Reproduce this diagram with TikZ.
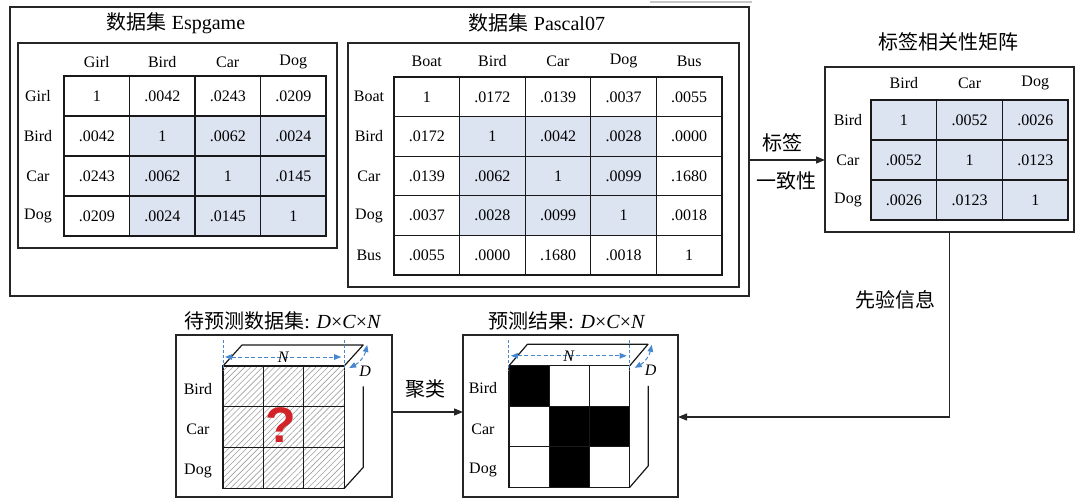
\documentclass[tikz,border=0pt]{standalone}
\usepackage{fontspec}
\setmainfont{Liberation Serif}
\newfontfamily\cjk{Noto Sans CJK SC}
\newfontfamily\qfont{Liberation Sans}
\usetikzlibrary{arrows.meta,patterns.meta,calc}
\definecolor{cellblue}{RGB}{220,227,241}
\definecolor{dimblue}{RGB}{70,135,205}
\definecolor{qred}{RGB}{210,35,40}
\newcommand\tabfont{\fontsize{16}{18}\selectfont}
\newcommand\mytitlefont{\fontsize{20}{22}\selectfont}
\begin{document}
\begin{tikzpicture}[x=1pt,y=-1pt,
  bx/.style={draw=black!85, line width=1.3pt, inner sep=0pt, outer sep=0pt, anchor=north west},
  cell/.style={draw=black!90, line width=1.3pt, minimum width=65.6pt, minimum height=40pt, inner sep=0pt, outer sep=0pt, font=\tabfont},
  hdr/.style={font=\tabfont, inner sep=1pt},
  ttl/.style={font=\mytitlefont, inner sep=1pt},
  arr/.style={draw=black!85, line width=1.3pt, -{Triangle[length=9pt,width=7pt]}},
  hcell/.style={draw=black!90, line width=1.2pt, minimum width=40.4pt, minimum height=40.8pt, inner sep=0pt, outer sep=0pt,
     pattern={Lines[angle=45,distance=4.2pt,line width=0.6pt]}, pattern color=gray!75},
  rcell/.style={draw=black!90, line width=1.2pt, minimum width=40.4pt, minimum height=40.8pt, inner sep=0pt, outer sep=0pt},
  edge/.style={draw=black!90, line width=1.2pt, line join=round},
  dimline/.style={draw=dimblue, line width=0.9pt, dash pattern=on 3pt off 2pt},
  dimarr/.style={draw=dimblue, line width=1pt, dash pattern=on 4pt off 2.5pt, {Triangle[length=7pt,width=5.5pt]}-{Triangle[length=7pt,width=5.5pt]}},
  dimlab/.style={font=\fontsize{16}{17}\selectfont\itshape, inner sep=0.5pt}
]
\useasboundingbox (0,0) rectangle (1077,499);
\fill[white] (0,0) rectangle (1077,499);
% scan artifact at top
\draw[gray!45, line width=2pt] (650,1.5) -- (752,1.5);

% ---------- outer box and datasets ----------
\node[bx, minimum width=739pt, minimum height=289pt] (outer) at (10,7) {};
\node[ttl] (tE) at (176,23) {{\cjk 数据集} Espgame};
\node[ttl] (tP) at (537,23) {{\cjk 数据集} Pascal07};
\node[bx, minimum width=319pt, minimum height=205pt] (boxE) at (18,43) {};
\node[bx, minimum width=391pt, minimum height=244pt] (boxP) at (348,43) {};

% Espgame table
\foreach \t [count=\c] in {Girl,Bird,Car,Dog}
  \node[hdr] (Eh-\c) at ({64+65.5*(\c-0.5)},62) {\t};
\foreach \t [count=\r] in {Girl,Bird,Car,Dog}
  \node[hdr] (Er-\r) at (38,{76+40*(\r-0.5)}) {\t};
\foreach \rw [count=\r] in {{1,.0042,.0243,.0209},{.0042,1,.0062,.0024},{.0243,.0062,1,.0145},{.0209,.0024,.0145,1}}{
  \foreach \v [count=\c] in \rw {
    \def\fc{white}
    \ifnum\r>1 \ifnum\c>1 \def\fc{cellblue}\fi\fi
    \node[cell, fill=\fc, minimum width=65.5pt] (E-\r-\c) at ({64+65.5*(\c-0.5)},{76+40*(\r-0.5)}) {\v};
  }
}

% Pascal07 table
\foreach \t [count=\c] in {Boat,Bird,Car,Dog,Bus}
  \node[hdr] (Ph-\c) at ({394+65.6*(\c-0.5)},61) {\t};
\foreach \t [count=\r] in {Boat,Bird,Car,Dog,Bus}
  \node[hdr] (Pr-\r) at (369,{77+39.6*(\r-0.5)}) {\t};
\foreach \rw [count=\r] in {{1,.0172,.0139,.0037,.0055},{.0172,1,.0042,.0028,.0000},{.0139,.0062,1,.0099,.1680},{.0037,.0028,.0099,1,.0018},{.0055,.0000,.1680,.0018,1}}{
  \foreach \v [count=\c] in \rw {
    \def\fc{white}
    \ifnum\r>1 \ifnum\r<5 \ifnum\c>1 \ifnum\c<5 \def\fc{cellblue}\fi\fi\fi\fi
    \node[cell, fill=\fc, minimum height=39.6pt] (T-\r-\c) at ({394+65.6*(\c-0.5)},{77+39.6*(\r-0.5)}) {\v};
  }
}

% ---------- label correlation matrix ----------
\node[ttl] (tR) at (948,42) {\cjk 标签相关性矩阵};
\node[bx, minimum width=249pt, minimum height=165pt] (rbox) at (825,67) {};
\foreach \t [count=\c] in {Bird,Car,Dog}
  \node[hdr] (Rh-\c) at ({871+65.7*(\c-0.5)},83) {\t};
\foreach \t [count=\r] in {Bird,Car,Dog}
  \node[hdr] (Rr-\r) at (848,{100+40*(\r-0.5)}) {\t};
\foreach \rw [count=\r] in {{1,.0052,.0026},{.0052,1,.0123},{.0026,.0123,1}}{
  \foreach \v [count=\c] in \rw {
    \node[cell, fill=cellblue, minimum width=65.7pt] (R-\r-\c) at ({871+65.7*(\c-0.5)},{100+40*(\r-0.5)}) {\v};
  }
}

% arrow: label consistency
\draw[arr] (outer.east |- R-2-1.center) -- (rbox.west |- R-2-1.center);
\node[ttl] (lc1) at (782,143) {\cjk 标签};
\node[ttl] (lc2) at (786,181) {\cjk 一致性};

% ---------- bottom boxes ----------
\node[ttl] (tPred) at (283,321) {{\cjk 待预测数据集}: \textit{D}×\textit{C}×\textit{N}};
\node[ttl] (tRes) at (567,321) {{\cjk 预测结果}: \textit{D}×\textit{C}×\textit{N}};
\node[bx, minimum width=216pt, minimum height=162pt] (pred) at (176,335) {};
\node[bx, minimum width=215pt, minimum height=162pt] (res) at (463,335) {};

% prediction cube
\begin{scope}[shift={(223,366)}]
  \foreach \r in {1,2,3} \foreach \c in {1,2,3}
    \node[hcell] (P-\r-\c) at ({40.4*(\c-0.5)},{40.8*(\r-0.5)}) {};
\end{scope}
\draw[edge] (P-1-1.north west) -- ++(19,-21) -- ++(121.2,0) -- (P-1-3.north east);
\draw[edge] (P-3-3.south east) -- ++(19,-21) -- ++(0,-81);
\draw[dimline] ($(P-1-1.north west)+(0,-26)$) -- ++(0,31);
\draw[dimline] ($(P-1-3.north east)+(0,-26)$) -- ++(0,31);
\draw[dimarr] ($(P-1-1.north west)+(2,-9)$) -- ($(P-1-3.north east)+(-3,-9)$) node[midway, dimlab] (PN) {N};
\draw[dimarr] ($(P-1-3.north east)+(5,2)$) to[bend right=25] ($(P-1-3.north east)+(23,-21)$);
\node[dimlab] (PD) at ($(P-1-3.north east)+(21,5)$) {D};
\node[text=qred, font=\qfont\fontsize{50}{50}\selectfont\bfseries, inner sep=0pt] (qm) at (281,425) {?};
\node[hdr] (Pl-1) at (198,389) {Bird};
\node[hdr] (Pl-2) at (198,429) {Car};
\node[hdr] (Pl-3) at (198,471) {Dog};

% result cube
\begin{scope}[shift={(509,366)}]
  \foreach \r/\c/\f in {1/1/black,1/2/white,1/3/white,2/1/white,2/2/black,2/3/black,3/1/white,3/2/black,3/3/white}
    \node[rcell, fill=\f] (Q-\r-\c) at ({40.2*(\c-0.5)},{40.4*(\r-0.5)}) {};
\end{scope}
\draw[edge] (Q-1-1.north west) -- ++(18.5,-21.5) -- ++(120.6,0) -- (Q-1-3.north east);
\draw[edge] (Q-3-3.south east) -- ++(18.5,-21.5) -- ++(0,-80);
\draw[dimline] ($(Q-1-1.north west)+(0,-26)$) -- ++(0,31);
\draw[dimline] ($(Q-1-3.north east)+(0,-26)$) -- ++(0,31);
\draw[dimarr] ($(Q-1-1.north west)+(2,-10)$) -- ($(Q-1-3.north east)+(-3,-10)$) node[midway, dimlab] (QN) {N};
\draw[dimarr] ($(Q-1-3.north east)+(5,2)$) to[bend right=25] ($(Q-1-3.north east)+(22,-21)$);
\node[dimlab] (QD) at ($(Q-1-3.north east)+(21,4)$) {D};
\node[hdr] (Ql-1) at (483,388) {Bird};
\node[hdr] (Ql-2) at (483,429) {Car};
\node[hdr] (Ql-3) at (483,470) {Dog};

% clustering arrow
\coordinate (lvl2) at (0,412);
\draw[arr] (pred.east |- lvl2) -- (res.west |- lvl2);
\node[ttl] (jl) at (425,389) {\cjk 聚类};

% prior information arrow
\coordinate (lvl) at (0,417);
\draw[arr] (rbox.south) |- (res.east |- lvl);
\node[ttl] (prior) at (895,300) {\cjk 先验信息};
\end{tikzpicture}
\end{document}
